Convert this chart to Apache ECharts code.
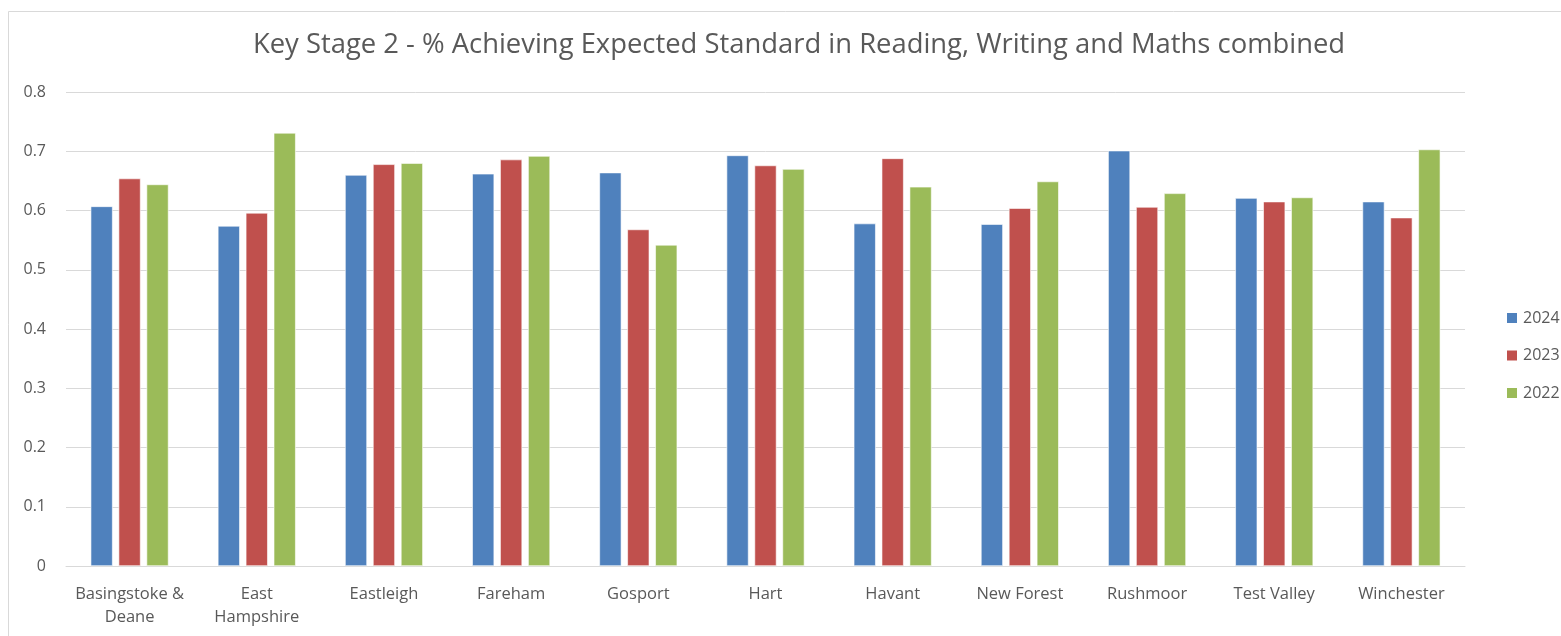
<!DOCTYPE html>
<html>
<head>
<meta charset="utf-8">
<script src="https://cdn.jsdelivr.net/npm/echarts@6/dist/echarts.min.js"></script>
<style>
  html, body { margin: 0; padding: 0; background: #fff; }
  #chart { width: 1561px; height: 636px; }
</style>
</head>
<body>
<div id="chart"></div>
<script>
// districts along the x axis
var districts = ['Basingstoke & Deane', 'East Hampshire', 'Eastleigh', 'Fareham', 'Gosport',
  'Hart', 'Havant', 'New Forest', 'Rushmoor', 'Test Valley', 'Winchester'];
// how the long names wrap under the axis
var districtLabels = ['Basingstoke &\nDeane', 'East\nHampshire', 'Eastleigh', 'Fareham', 'Gosport',
  'Hart', 'Havant', 'New Forest', 'Rushmoor', 'Test Valley', 'Winchester'];

var years = ['2024', '2023', '2022'];
var values2024 = [0.607, 0.574, 0.660, 0.662, 0.664, 0.693, 0.578, 0.577, 0.701, 0.621, 0.615];
var values2023 = [0.654, 0.596, 0.678, 0.686, 0.568, 0.676, 0.688, 0.604, 0.606, 0.615, 0.588];
var values2022 = [0.644, 0.731, 0.680, 0.692, 0.542, 0.670, 0.640, 0.649, 0.629, 0.622, 0.703];

var yearColors = ['#4F81BD', '#C0504D', '#9BBB59'];
var FONT = 'Open Sans, Noto Sans, sans-serif';

var chart = echarts.init(document.getElementById('chart'));

function barSeries(name, data, color) {
  return {
    name: name,
    type: 'bar',
    data: data,
    barWidth: 22,
    barGap: '27%',
    itemStyle: { color: color, borderColor: '#ffffff', borderWidth: 0.6 }
  };
}

var option = {
  animation: false,
  backgroundColor: '#fff',
  color: yearColors,
  textStyle: { fontFamily: FONT },
  title: {
    text: 'Key Stage 2 - % Achieving Expected Standard in Reading, Writing and Maths combined',
    left: 794,
    textAlign: 'center',
    top: 27,
    textStyle: { fontFamily: FONT, fontSize: 27.4, fontWeight: 'normal', color: '#595959' }
  },
  legend: {
    orient: 'vertical',
    left: 1500,
    top: 305,
    itemWidth: 12,
    itemHeight: 12,
    itemGap: 21.5,
    icon: 'rect',
    data: years,
    textStyle: { fontFamily: FONT, fontSize: 16, lineHeight: 16, color: '#595959' }
  },
  grid: { left: 66, right: 96, top: 92, bottom: 70, containLabel: false },
  xAxis: {
    type: 'category',
    data: districts,
    axisLine: { show: true, lineStyle: { color: '#d9d9d9', width: 1 } },
    axisTick: { show: false },
    axisLabel: {
      margin: 17,
      interval: 0,
      fontSize: 16.5,
      lineHeight: 23,
      color: '#595959',
      formatter: function (value, idx) { return districtLabels[idx]; }
    }
  },
  yAxis: {
    type: 'value',
    min: 0,
    max: 0.8,
    interval: 0.1,
    axisLine: { show: false },
    axisTick: { show: false },
    splitLine: { lineStyle: { color: '#d9d9d9', width: 1 } },
    axisLabel: {
      margin: 20,
      fontSize: 16,
      color: '#595959',
      formatter: function (v) { return v === 0 ? '0' : v.toFixed(1); }
    }
  },
  graphic: [{
    type: 'rect',
    left: 6,
    top: 9,
    shape: { width: 1570, height: 640 },
    style: { fill: 'none', stroke: '#d9d9d9', lineWidth: 1 },
    silent: true
  }],
  series: [
    barSeries(years[0], values2024, yearColors[0]),
    barSeries(years[1], values2023, yearColors[1]),
    barSeries(years[2], values2022, yearColors[2])
  ]
};

chart.setOption(option);
</script>
</body>
</html>
